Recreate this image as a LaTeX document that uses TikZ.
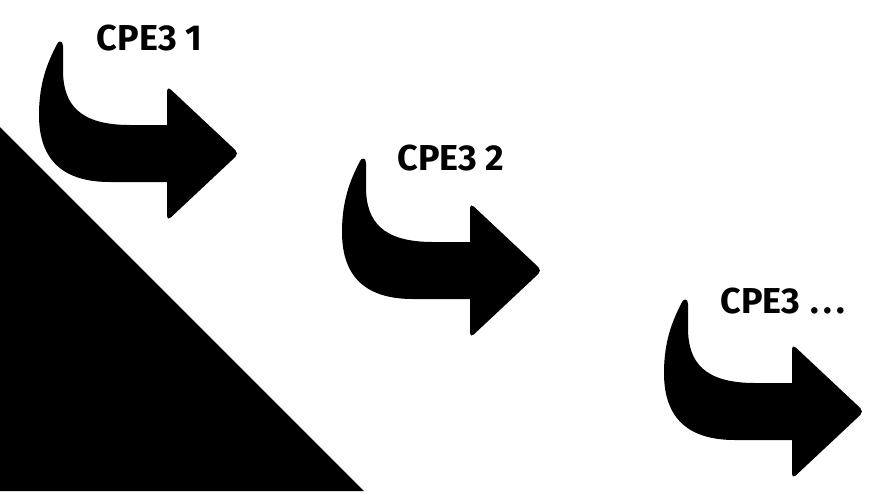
\documentclass[tikz,border=0pt]{standalone}
\usepackage{fontspec}
\setmainfont{Fira Sans}
\begin{document}
\begin{tikzpicture}[x=1pt,y=-1pt,
  lbl/.style={font=\bfseries\fontsize{36}{36}\selectfont, inner sep=0pt, anchor=base},
  curvedarrow/.pic={
    \fill[black] (63,46) -- (63,70) .. controls (63,105) and (80,125) .. (130,125)
      -- (170,125) -- (170,182) -- (110,182)
      .. controls (65,182) and (39,162) .. (39,115)
      .. controls (39,82) and (48,62) .. (56,46)
      .. controls (58,40) and (63,40) .. (63,46) -- cycle;
    \fill[black, rounded corners=5pt] (167,86) -- (239,153.5) -- (167,221) -- cycle;
  }]
  \useasboundingbox[fill=white] (0,0) rectangle (873,491);
  \fill[black] (0,127) -- (0,491) -- (364,491) -- cycle;
  \pic at (0,0) {curvedarrow};
  \pic at (303,117) {curvedarrow};
  \pic at (625,258) {curvedarrow};
  \node[lbl] (t1) at (149.5,50) {CPE3 1};
  \node[lbl] (t2) at (451,170) {CPE3 2};
  \node[lbl] (t3) at (782.5,313) {CPE3 \kern2pt.\kern4pt.\kern4pt.};
\end{tikzpicture}
\end{document}
